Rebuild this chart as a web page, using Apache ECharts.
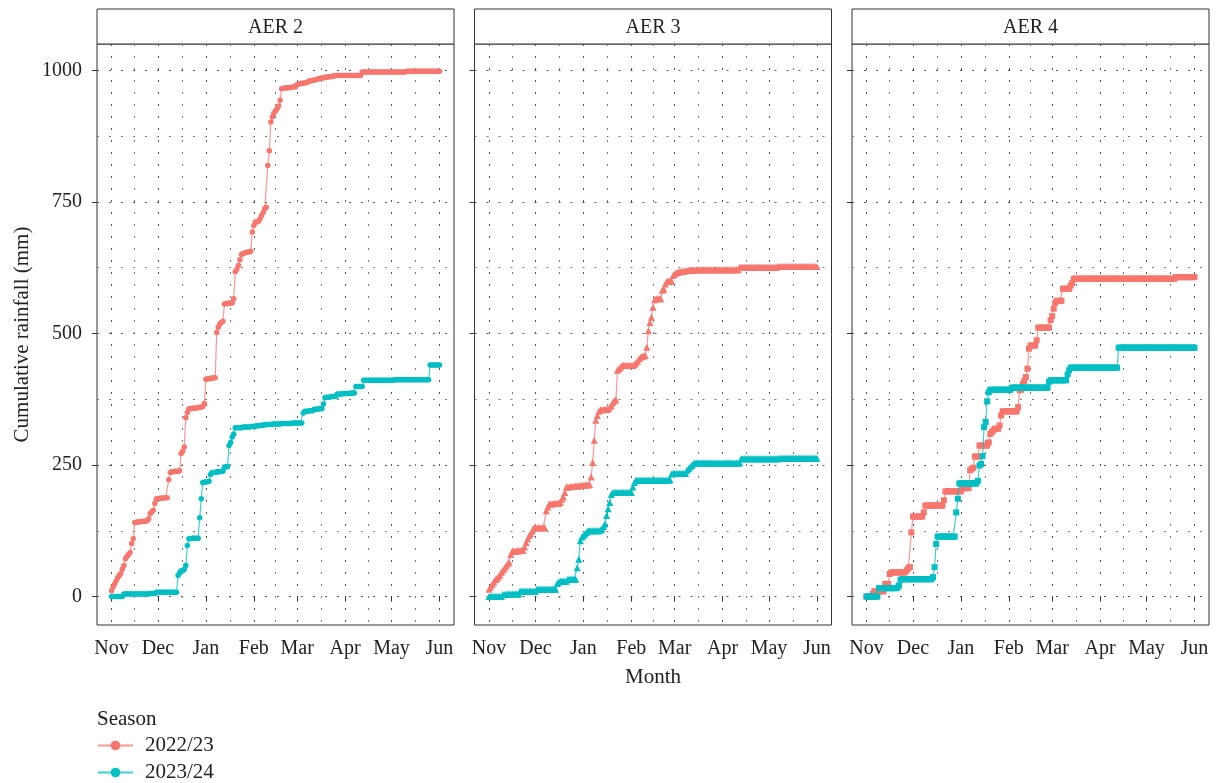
<!DOCTYPE html>
<html>
<head>
<meta charset="utf-8">
<script src="https://cdn.jsdelivr.net/npm/echarts@6/dist/echarts.min.js"></script>
<style>
html,body{margin:0;padding:0;background:#fff;}
#chart{width:1220px;height:783px;}
</style>
</head>
<body>
<div id="chart"></div>
<script>
// ---------- DATA ----------
const panels = ['AER 2', 'AER 3', 'AER 4'];
const seasons = ['2022/23', '2023/24'];
const monthLabels = ['Nov', 'Dec', 'Jan', 'Feb', 'Mar', 'Apr', 'May', 'Jun'];
const monthStarts = ['2022-11-01', '2022-12-01', '2023-01-01', '2023-02-01', '2023-03-01', '2023-04-01', '2023-05-01', '2023-06-01'];
const yTicks = [0, 250, 500, 750, 1000];
const yMinorTicks = [125, 375, 625, 875];
const firstDay = '2022-11-01'; // daily observations start here (season-aligned)

// Cumulative rainfall (mm), one value per day from 1 Nov to 1 Jun
const aer2_2223 = [
11,18,24,30,36,40,44,52,59,72,76,80,84,101,110,
141,141,142,142,142,143,143,143,144,
148,158,161,164,177,
186,186,187,187,187,188,188,188,
222,
236,237,237,238,238,238,239,
272,276,284,340,350,
357,357,358,358,358,359,359,360,360,361,
367,
413,414,414,415,415,416,416,
502,512,518,521,523,
556,557,557,558,558,558,
566,617,622,629,640,
650,652,653,654,655,655,656,
693,705,712,712,713,718,724,730,737,740,819,847,902,912,919,923,927,932,943,
965,
966,966,967,967,967,968,968,969,969,
973,974,975,975,976,976,977,978,980,980,981,981,982,983,984,985,985,986,987,987,988,988,988,989,989,
990,990,990,990,990,990,990,990,990,990,990,990,990,990,990,990,990,
997,997,997,997,997,997,997,997,997,997,
997,997,997,997,997,997,997,997,997,997,
997,997,997,997,997,997,997,997,997,
998,998,998,998,998,998,998,998,998,998,
998,998,998,998,998,998,998,998,998,998,
998,998
];
const aer2_2324 = [
0,0,0,0,0,0,0,0,
5,5,5,5,5,5,5,5,5,5,5,5,5,5,5,5,5,6,6,6,6,
8,8,8,8,8,8,8,8,8,8,8,8,8,8,
40,45,49,49,52,59,
97,
110,110,111,111,111,111,111,
150,186,
217,217,218,218,219,
232,
236,236,236,237,237,237,238,238,
246,246,247,
287,293,303,309,
321,321,321,321,321,322,322,322,322,322,323,323,323,
324,324,325,325,325,
326,326,327,327,327,327,328,328,328,328,328,328,329,329,329,329,329,329,329,330,330,330,330,330,330,330,
349,
352,352,352,353,353,353,
356,356,356,357,357,357,
366,378,
379,379,379,380,380,380,380,
385,385,385,385,386,386,386,386,386,387,387,387,
399,399,399,399,399,
411,411,411,411,411,411,411,411,411,411,
411,411,411,411,411,411,411,411,411,411,
412,412,412,412,412,412,412,412,412,412,
412,412,412,412,412,412,412,412,412,412,
412,412,412,
440,440,440,440,440,440,440
];
const aer3_2223 = [
14,18,23,27,32,34,37,41,46,50,54,58,62,65,80,
86,86,86,87,87,87,88,88,
94,103,110,116,120,125,
131,131,131,131,131,131,131,131,
163,170,
176,176,176,177,177,177,177,
179,185,189,198,208,
208,208,209,209,209,210,210,210,211,211,211,212,212,212,213,
227,255,297,335,344,
352,355,355,355,356,356,356,
360,363,369,372,374,430,433,436,
439,439,439,439,439,439,439,439,
441,444,447,452,455,456,457,458,
474,505,521,531,550,564,
566,566,566,566,
582,584,594,
599,599,599,599,
610,613,615,616,617,617,618,
618,619,619,620,620,620,620,
621,621,621,621,621,621,621,621,621,621,
621,621,621,621,621,621,621,621,621,621,
621,621,621,621,621,621,621,621,621,
626,626,626,626,626,626,626,626,626,626,
626,626,626,626,626,626,626,626,626,626,
626,626,626,626,626,
627,627,627,627,627,627,627,627,627,627,
627,627,627,627,627,627,627,627,627,627,
627,627,627,627,627,627
];
const aer3_2324 = [
0,0,0,0,0,0,0,0,0,
4,4,4,5,5,5,5,5,5,5,5,
10,10,10,10,10,10,10,10,10,10,10,
14,14,14,14,14,14,14,14,14,14,14,14,14,
25,27,
29,29,29,29,29,
33,33,33,33,33,33,
55,71,106,113,116,119,122,
125,125,125,125,125,125,125,125,
126,128,133,138,154,167,179,194,
198,198,198,198,198,198,198,198,198,198,198,198,198,
208,217,
221,221,221,221,221,221,221,221,221,221,
221,221,221,221,221,221,221,221,221,221,
221,221,
222,233,
234,234,234,234,234,234,234,234,234,
240,243,246,249,252,
254,254,254,254,254,254,254,254,254,254,
254,254,254,254,254,254,254,254,254,254,
254,254,254,254,254,254,254,254,254,254,
262,262,262,262,262,262,262,262,262,262,
262,262,262,262,262,262,262,262,262,262,
262,262,262,262,262,
263,263,263,263,263,263,263,263,263,263,
263,263,263,263,263,263,263,263,263,263,
263,263,263,263,263
];
const aer4_2223 = [
0,0,0,0,5,
10,10,10,10,10,10,10,
24,24,24,
43,
46,46,46,46,46,46,46,46,46,46,
50,54,56,122,152,
152,152,152,152,152,152,
160,
173,173,173,173,173,173,173,173,173,173,173,173,
183,
200,200,200,200,200,200,200,200,200,200,200,
206,206,206,206,206,
240,243,245,266,
266,266,
287,287,287,287,287,287,
293,309,313,316,
319,319,319,
325,344,
352,352,352,352,352,352,352,352,352,352,
360,392,393,404,410,417,433,471,
477,477,477,477,
487,
511,511,511,511,511,511,511,511,
525,533,547,558,
562,562,562,562,
585,585,585,585,585,
591,596,
604,604,604,604,604,604,604,604,604,604,
604,604,604,604,604,604,604,604,604,604,
604,604,604,604,604,604,604,604,604,604,
604,604,604,604,604,604,604,604,604,604,
604,604,604,604,604,604,604,604,604,604,
604,604,604,604,604,604,604,604,604,604,
604,604,604,604,604,604,
607,607,607,607,607,607,607,607,607,607,
607,607,607
];
const aer4_2324 = [
0,0,0,0,0,0,0,0,
16,16,16,16,16,16,16,16,16,16,16,16,
17,21,32,
33,33,33,33,33,33,33,33,33,33,
33,33,33,33,33,33,33,33,33,33,
37,56,
100,
114,114,114,114,114,114,114,114,114,114,114,114,
160,186,
215,215,215,215,215,215,215,215,215,215,215,215,
220,
249,252,267,322,332,371,388,
393,393,393,393,393,393,393,393,393,393,393,393,393,393,
397,397,397,397,397,397,397,397,397,397,
397,397,397,397,397,397,397,397,397,397,
397,397,397,397,
408,
411,411,411,411,411,411,411,411,411,411,411,
422,430,
435,435,435,435,435,435,435,435,435,435,
435,435,435,435,435,435,435,435,435,435,
435,435,435,435,435,435,435,435,435,435,
435,
473,473,473,473,473,473,473,473,473,473,
473,473,473,473,473,473,473,473,473,473,
473,473,473,473,473,473,473,473,473,473,
473,473,473,473,473,473,473,473,473,473,
473,473,473,473,473,473,473,473,473,473
];

// ---------- CHART ----------
const FONT = 'Liberation Serif';
const RED = '#F8766D', TEAL = '#00BFC4';
const DAY = 86400000;
const t0 = Date.parse(firstDay);
const monthTs = monthStarts.map(d => Date.parse(d));
const monthMid = [];
for (let i = 0; i < monthTs.length - 1; i++) monthMid.push((monthTs[i] + monthTs[i + 1]) / 2);
const xMin = monthTs[0] - 9.4 * DAY;
const xMax = monthTs[monthTs.length - 1] + 9.4 * DAY;
const yMin = -54, yMax = 1050;

const lefts = [97, 474.5, 852];
const gridW = 357, gridTop = 44, gridH = 581;

const panelData = [
  [aer2_2223, aer2_2324, 'circle', 5.5],
  [aer3_2223, aer3_2324, 'triangle', 7],
  [aer4_2223, aer4_2324, 'rect', 6]
];

const grids = [], xAxes = [], yAxes = [], series = [], graphics = [];
const gridLine = (c) => ({ show: true, lineStyle: { color: c, width: 1, type: [2, 10] } });
const monthName = (v) => { const i = monthTs.findIndex(t => Math.abs(t - v) < DAY); return i >= 0 ? monthLabels[i] : ''; };

panels.forEach((p, gi) => {
  grids.push({ left: lefts[gi], top: gridTop, width: gridW, height: gridH,
    show: true, borderColor: '#333', borderWidth: 1, backgroundColor: '#fff', containLabel: false });
  // major x (dates as timestamps on a value scale)
  xAxes.push({
    type: 'value', gridIndex: gi, min: xMin, max: xMax, position: 'bottom', scale: true,
    axisLine: { show: false },
    axisTick: { show: true, length: 5, lineStyle: { color: '#333', width: 1 }, customValues: monthTs },
    axisLabel: { show: true, customValues: monthTs, margin: 14, fontSize: 20, color: '#222', fontFamily: FONT,
      formatter: monthName },
    splitLine: gridLine('#555'),
    name: gi === 1 ? 'Month' : '', nameLocation: 'middle', nameGap: 42,
    nameTextStyle: { fontSize: 21, color: '#222', fontFamily: FONT }
  });
  // minor x (grid only)
  xAxes.push({
    type: 'value', gridIndex: gi, min: xMin, max: xMax, position: 'bottom', scale: true,
    axisLine: { show: false },
    axisTick: { show: false, customValues: monthMid },
    axisLabel: { show: false, customValues: monthMid },
    splitLine: gridLine('#777')
  });
  // major y
  yAxes.push({
    type: 'value', gridIndex: gi, min: yMin, max: yMax, position: 'left',
    axisLine: { show: false },
    axisTick: { show: true, length: 5, lineStyle: { color: '#333', width: 1 }, customValues: yTicks },
    axisLabel: { show: gi === 0, customValues: yTicks, margin: 15, fontSize: 20, color: '#222', fontFamily: FONT,
      formatter: (v) => String(v) },
    splitLine: gridLine('#555'),
    name: gi === 0 ? 'Cumulative rainfall (mm)' : '', nameLocation: 'middle', nameGap: 64, nameRotate: 90,
    nameTextStyle: { fontSize: 21, color: '#222', fontFamily: FONT }
  });
  // minor y
  yAxes.push({
    type: 'value', gridIndex: gi, min: yMin, max: yMax, position: 'left',
    axisLine: { show: false },
    axisTick: { show: false, customValues: yMinorTicks },
    axisLabel: { show: false, customValues: yMinorTicks },
    splitLine: gridLine('#777')
  });

  const [d1, d2, sym, sz] = panelData[gi];
  [[d1, seasons[0], RED], [d2, seasons[1], TEAL]].forEach(([arr, name, col], si) => {
    series.push({
      type: 'line', name: name, xAxisIndex: gi * 2, yAxisIndex: gi * 2,
      data: arr.map((v, i) => [t0 + i * DAY, v]),
      symbol: sym, symbolSize: sz, showSymbol: true, showAllSymbol: true,
      itemStyle: { color: col, opacity: 1 },
      lineStyle: { color: col, width: 1.2, opacity: 0.75 },
      emphasis: { disabled: true }, silent: true, animation: false, z: 3 + si
    });
  });

  // facet strip
  graphics.push({
    type: 'rect', shape: { x: lefts[gi], y: 9, width: gridW, height: gridTop - 9 },
    style: { fill: '#fff', stroke: '#333', lineWidth: 1 }, silent: true
  });
  graphics.push({
    type: 'text', x: lefts[gi] + gridW / 2, y: (9 + gridTop) / 2 + 1,
    style: { text: p, fill: '#222', font: '20px "' + FONT + '"', textAlign: 'center', textVerticalAlign: 'middle' },
    silent: true
  });
});

const chart = echarts.init(document.getElementById('chart'), null, { renderer: 'canvas' });
chart.setOption({
  animation: false,
  backgroundColor: '#fff',
  textStyle: { fontFamily: FONT },
  title: { text: 'Season', left: 97, top: 709, padding: 0,
    textStyle: { fontSize: 21, fontWeight: 'normal', color: '#222', fontFamily: FONT } },
  legend: {
    data: seasons, orient: 'vertical', left: 97, top: 735, padding: 0,
    itemWidth: 35, itemHeight: 12, itemGap: 6, selectedMode: false,
    textStyle: { fontSize: 21, color: '#222', fontFamily: FONT, padding: [0, 0, 0, 7] }
  },
  tooltip: { show: false },
  grid: grids, xAxis: xAxes, yAxis: yAxes, series: series,
  graphic: { elements: graphics }
});
</script>
</body>
</html>
